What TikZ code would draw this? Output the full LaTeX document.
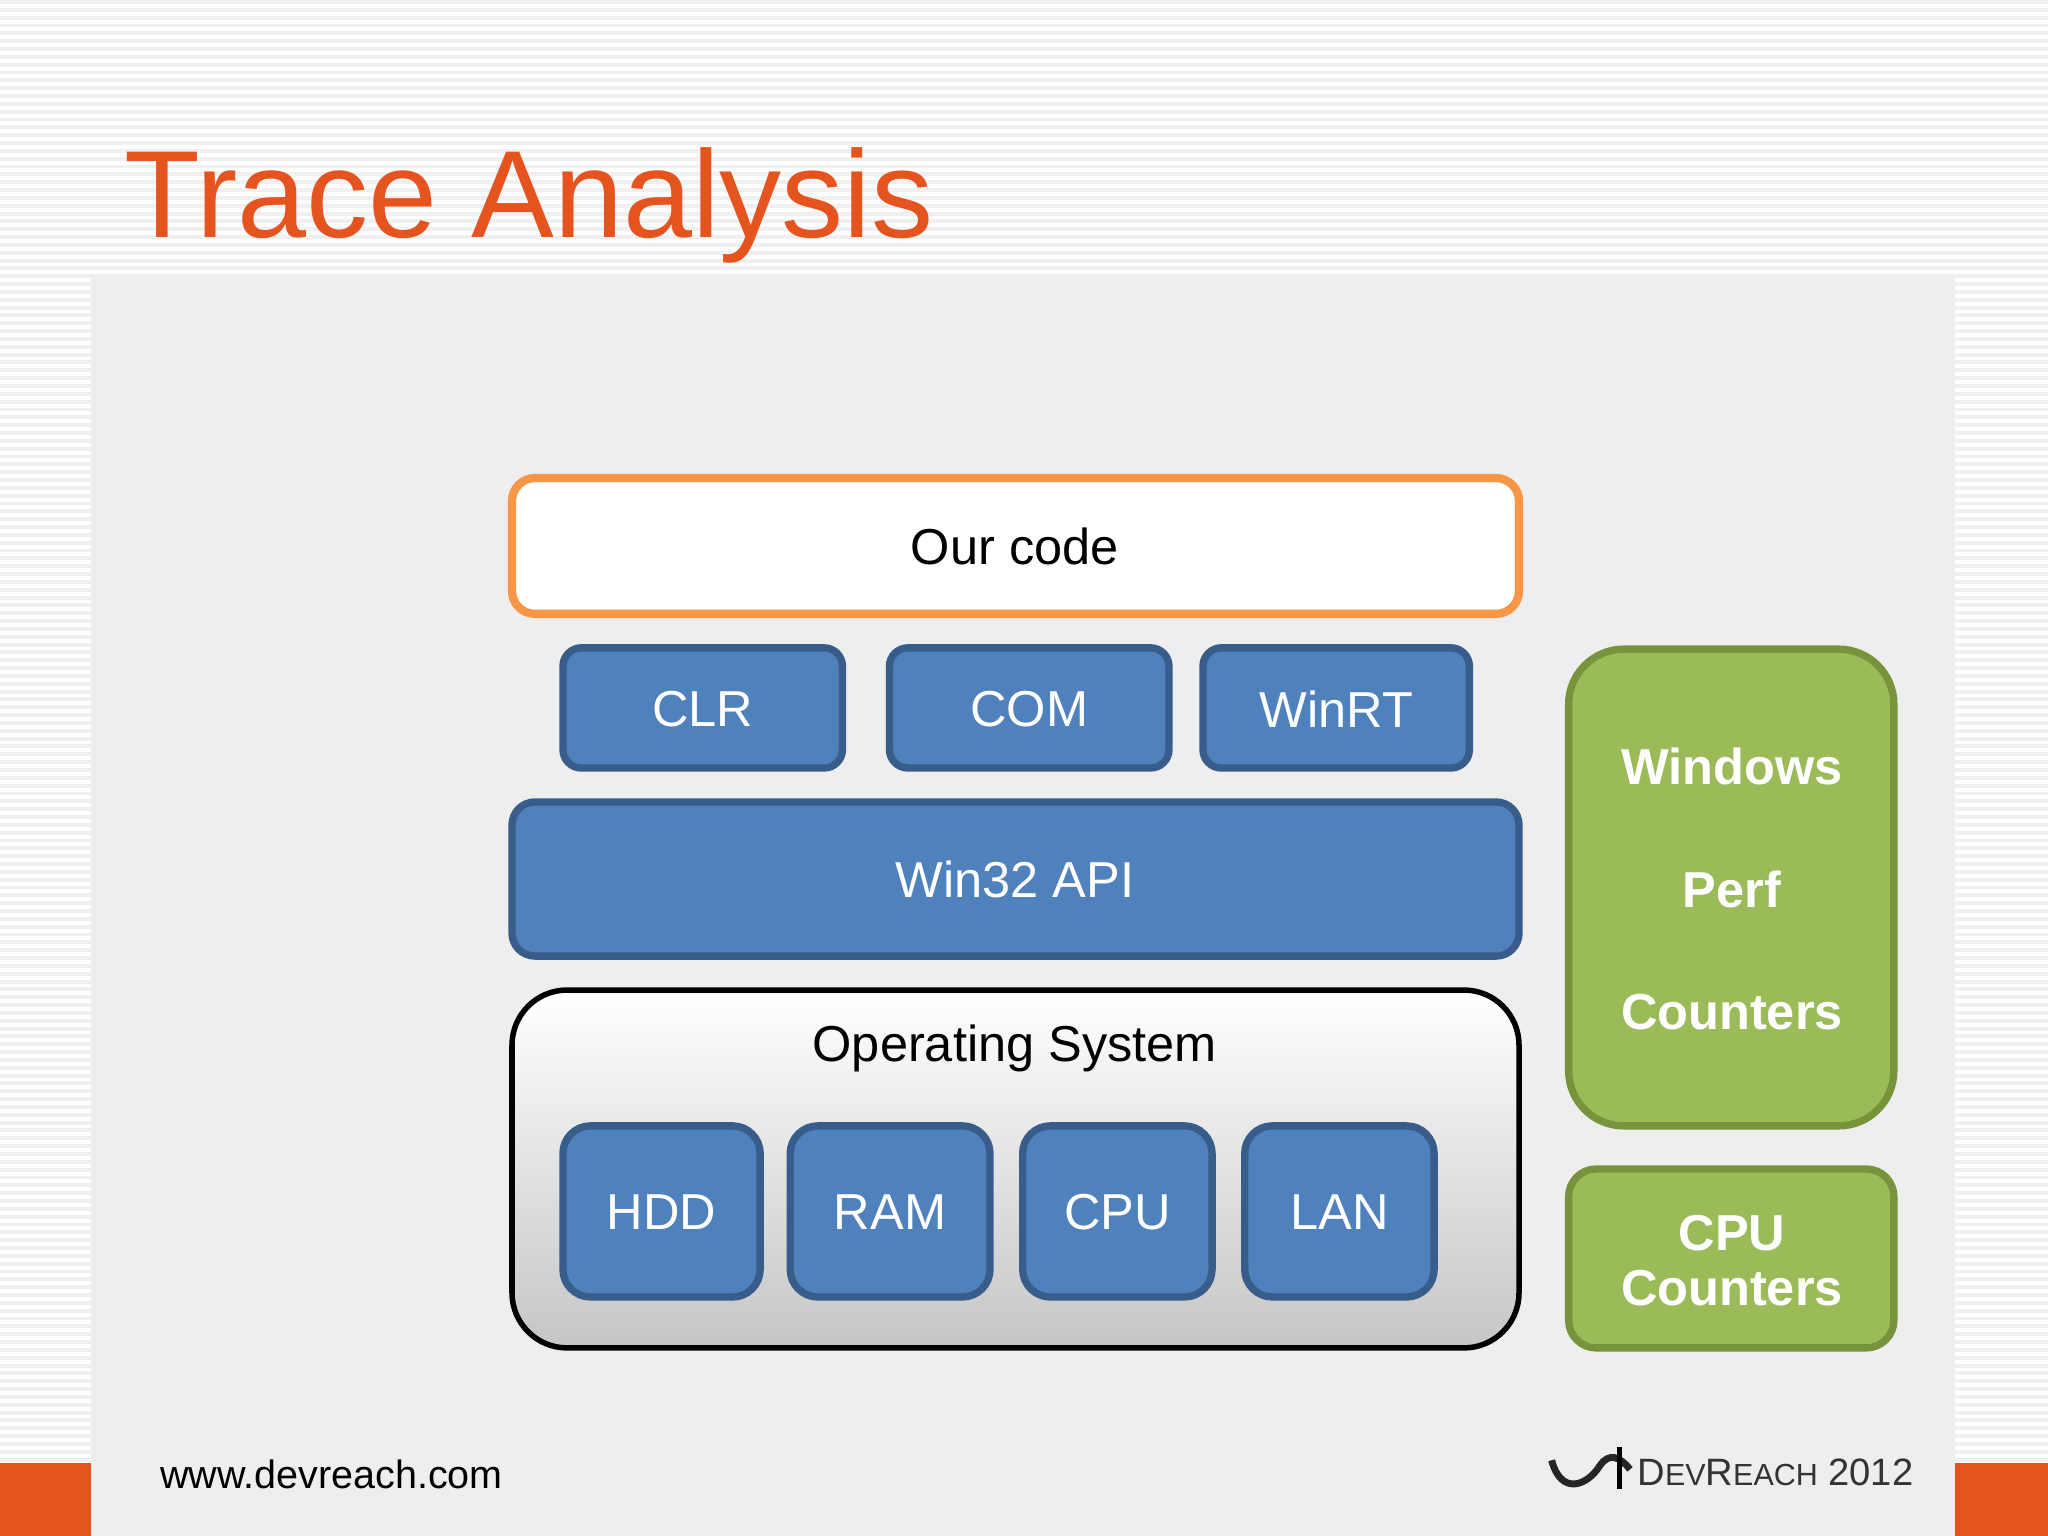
\documentclass[tikz,border=0pt]{standalone}
\usepackage{fontspec}
\setmainfont{Liberation Sans}
\definecolor{ttl}{HTML}{E5531F}
\definecolor{blu}{HTML}{4F81BD}
\definecolor{bluD}{HTML}{385D8A}
\definecolor{grn}{HTML}{9BBB59}
\definecolor{grnD}{HTML}{77933C}
\definecolor{org}{HTML}{F79646}
\begin{document}
\begin{tikzpicture}[x=0.01cm,y=-0.01cm,
 bbox/.style={draw=bluD,line width=1.6pt,fill=blu,rounded corners=4pt},
 btxt/.style={text=white,font=\fontsize{11pt}{13pt}\selectfont},
 gbox/.style={draw=grnD,line width=1.6pt,fill=grn},
 gtxt/.style={text=white,font=\bfseries\fontsize{11pt}{13pt}\selectfont,align=center}]
\useasboundingbox (0,0) rectangle (1568,1176);
\fill[white] (0,0) rectangle (1568,1176);
\foreach \y in {0,6,...,1176} \fill[gray!12] (0,\y) rectangle (1568,\y+3);
\fill[gray!13] (70,210) rectangle (1497,1176);
\fill[ttl] (0,1120) rectangle (70,1176);
\fill[ttl] (1497,1120) rectangle (1568,1176);
\node[anchor=base west,text=ttl,font=\fontsize{27pt}{30pt}\selectfont,inner sep=0] (title) at (95,182) {Trace Analysis};
\path[draw=org,line width=1.8pt,fill=white,rounded corners=5pt] (392,366) rectangle (1163,470);
\node[font=\fontsize{11pt}{13pt}\selectfont] (ourt) at (777,418) {Our code};
\path[bbox] (431,496) rectangle (645,588); \node[btxt] (clr) at (538,543) {CLR};
\path[bbox] (681,496) rectangle (895,588); \node[btxt] (com) at (788,543) {COM};
\path[bbox] (921,496) rectangle (1125,588); \node[btxt] (winrt) at (1023,543) {WinRT};
\path[bbox,rounded corners=5pt] (392,614) rectangle (1163,732); \node[btxt] (win32) at (777,673) {Win32 API};
\path[draw=black,line width=1.2pt,top color=white,bottom color=gray!45,rounded corners=12pt] (392,758) rectangle (1163,1032);
\node[font=\fontsize{11pt}{13pt}\selectfont] (os) at (777,803) {Operating System};
\foreach \a/\b/\t/\n in {431/582/HDD/hdd,605/758/RAM/ram,783/928/CPU/cpu,953/1098/LAN/lan}{
 \path[bbox,rounded corners=6pt] (\a,862) rectangle (\b,993);
 \node[btxt] (\n) at ({(\a+\b)/2},928) {\t};}
\path[gbox,rounded corners=12pt] (1201,497) rectangle (1450,862);
\node[gtxt] (wpc1) at (1326,587) {Windows};
\node[gtxt] (wpc2) at (1326,681) {Perf};
\node[gtxt] (wpc3) at (1326,775) {Counters};
\path[gbox,rounded corners=6pt] (1201,895) rectangle (1450,1032);
\node[gtxt] (cpuc) at (1326,965) {CPU\\[-1pt]Counters};
\node[anchor=base west,font=\fontsize{8.6pt}{10pt}\selectfont,inner sep=0] (www) at (122,1140) {www.devreach.com};
\node[anchor=base west,font=\fontsize{8.3pt}{10pt}\selectfont,inner sep=0,text=black!80] (dr) at (1253,1137) {D\scalebox{0.8}{EV}R\scalebox{0.8}{EACH} 2012};
\draw[line width=1.5pt,black!85] (1188,1118) .. controls (1195,1145) and (1215,1138) .. (1225,1122) .. controls (1232,1112) and (1240,1115) .. (1248,1125);
\draw[line width=1pt] (1240,1108) -- (1240,1140);
\end{tikzpicture}
\end{document}
